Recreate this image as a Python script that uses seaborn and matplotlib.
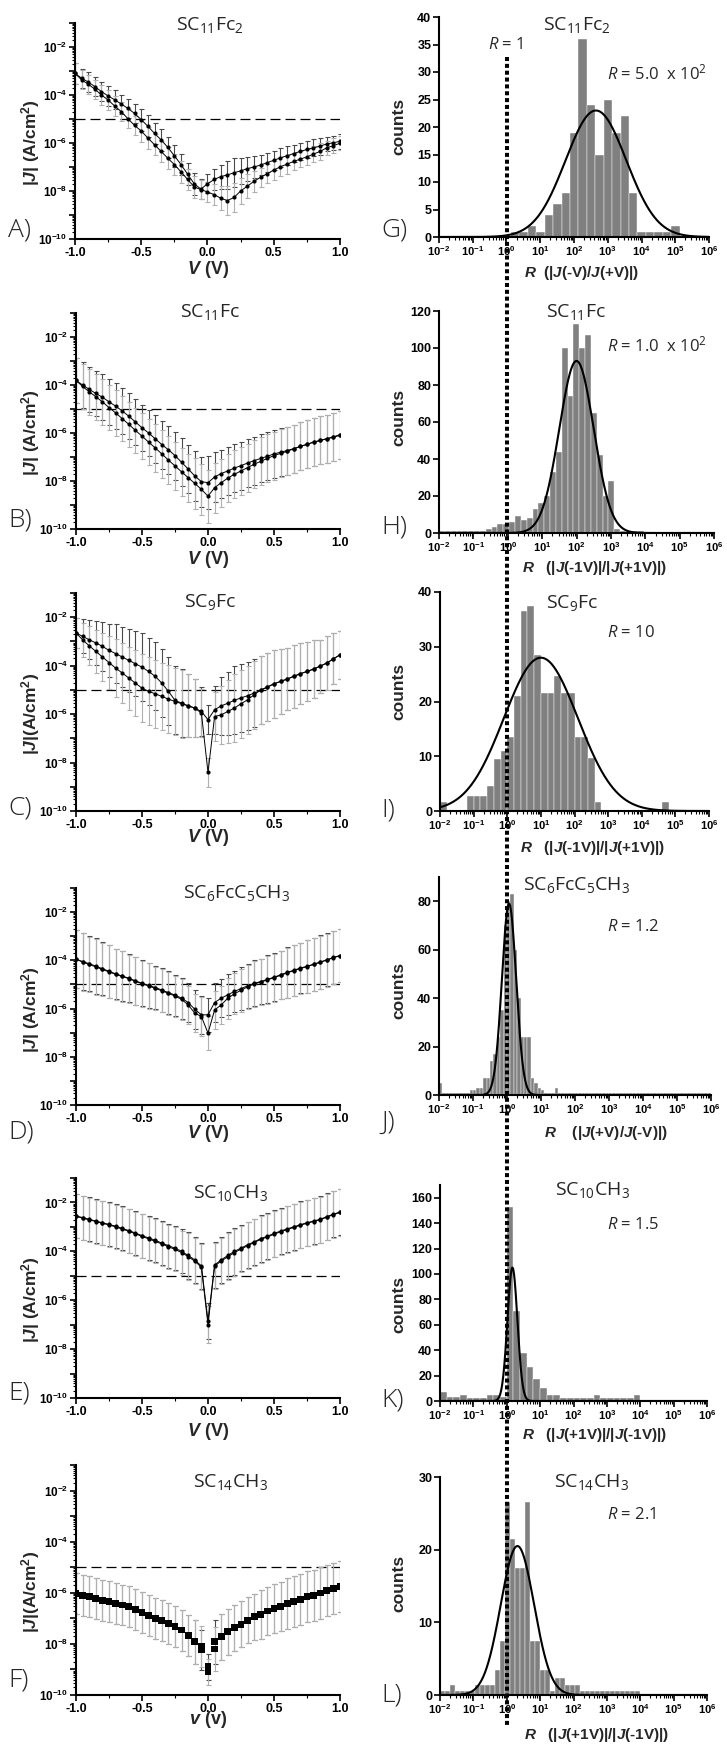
import numpy as np
import pandas as pd
import matplotlib
matplotlib.use('Agg')
import matplotlib.pyplot as plt
from matplotlib.lines import Line2D
from matplotlib.ticker import FixedLocator, FuncFormatter, LogLocator, NullFormatter, MultipleLocator
import seaborn as sns

sns.set_style('ticks')
plt.rcParams['font.family'] = ['Liberation Sans', 'DejaVu Sans']
plt.rcParams['mathtext.fontset'] = 'custom'
plt.rcParams['mathtext.rm'] = 'Open Sans'
plt.rcParams['mathtext.it'] = 'Open Sans:italic'
plt.rcParams['mathtext.bf'] = 'Liberation Sans:bold'
plt.rcParams['mathtext.bfit'] = 'Liberation Sans:italic:bold'
plt.rcParams['axes.unicode_minus'] = False

# ---------------- J(V) data: log10 |J| (A/cm2) for both sweeps ----------------
volts = np.linspace(-1.0, 1.0, 41)

a_fwd = [-3.10, -3.30, -3.46, -3.65, -3.86, -4.04, -4.20, -4.38, -4.56, -4.77,
         -5.03, -5.30, -5.60, -5.87, -6.18, -6.53, -6.90, -7.30, -7.70, -7.92,
         -7.70, -7.52, -7.40, -7.33, -7.24, -7.16, -7.07, -7.00, -6.92, -6.82,
         -6.72, -6.62, -6.53, -6.44, -6.35, -6.27, -6.20, -6.13, -6.04, -5.99, -5.93]
a_rev = [-3.10, -3.37, -3.55, -3.76, -4.00, -4.21, -4.46, -4.70, -4.99, -5.27,
         -5.50, -5.79, -6.07, -6.35, -6.63, -6.90, -7.20, -7.52, -7.83, -7.94,
         -8.04, -8.15, -8.30, -8.40, -8.27, -8.00, -7.80, -7.60, -7.43, -7.28,
         -7.13, -6.99, -6.88, -6.77, -6.67, -6.58, -6.46, -6.35, -6.20, -6.11, -6.01]
a_err = [0.45, 0.40, 0.40, 0.40, 0.40, 0.40, 0.40, 0.40, 0.40, 0.40,
         0.45, 0.45, 0.45, 0.45, 0.45, 0.45, 0.45, 0.45, 0.45, 0.40,
         0.40, 0.45, 0.50, 0.60, 0.60, 0.55, 0.50, 0.45, 0.40, 0.40,
         0.40, 0.40, 0.40, 0.35, 0.35, 0.35, 0.35, 0.35, 0.30, 0.30, 0.30]

b_fwd = [-3.81, -4.00, -4.18, -4.35, -4.51, -4.70, -4.88, -5.08, -5.30, -5.54,
         -5.78, -6.00, -6.24, -6.48, -6.70, -6.94, -7.22, -7.50, -7.79, -8.03,
         -8.07, -7.83, -7.69, -7.58, -7.46, -7.36, -7.25, -7.15, -7.06, -6.97,
         -6.87, -6.80, -6.73, -6.65, -6.56, -6.47, -6.38, -6.31, -6.24, -6.17, -6.10]
b_rev = [-3.81, -4.06, -4.28, -4.49, -4.70, -4.94, -5.16, -5.40, -5.64, -5.89,
         -6.13, -6.38, -6.62, -6.87, -7.13, -7.37, -7.62, -7.86, -8.10, -8.35,
         -8.63, -8.28, -8.07, -7.88, -7.72, -7.58, -7.44, -7.30, -7.18, -7.06,
         -6.94, -6.85, -6.76, -6.66, -6.56, -6.47, -6.38, -6.31, -6.24, -6.16, -6.07]
b_err = [0.95, 0.95, 0.95, 0.95, 0.95, 0.95, 0.95, 0.95, 0.95, 0.95,
         0.95, 0.95, 1.00, 1.00, 1.00, 1.00, 1.00, 1.00, 1.05, 1.05,
         1.10, 1.05, 1.00, 1.00, 1.00, 1.00, 1.00, 1.00, 1.00, 1.00,
         1.00, 1.00, 1.00, 1.00, 1.00, 1.00, 1.00, 1.00, 1.00, 1.00, 1.00]

c_fwd = [-2.65, -2.79, -2.93, -3.06, -3.20, -3.37, -3.50, -3.64, -3.78, -3.92,
         -4.06, -4.24, -4.44, -4.72, -5.06, -5.43, -5.55, -5.66, -5.75, -5.89,
         -6.23, -5.82, -5.66, -5.55, -5.43, -5.33, -5.24, -5.13, -5.02, -4.88,
         -4.75, -4.65, -4.55, -4.44, -4.33, -4.24, -4.14, -4.02, -3.89, -3.72, -3.55]
c_rev = [-2.65, -2.93, -3.18, -3.41, -3.64, -3.87, -4.10, -4.30, -4.51, -4.72,
         -4.93, -5.06, -5.16, -5.27, -5.38, -5.48, -5.57, -5.66, -5.75, -5.96,
         -8.41, -6.10, -6.03, -5.89, -5.75, -5.57, -5.41, -5.20, -5.00, -4.88,
         -4.75, -4.65, -4.55, -4.44, -4.33, -4.24, -4.14, -4.02, -3.89, -3.72, -3.55]
c_err = [0.60, 0.70, 0.80, 0.90, 1.00, 1.10, 1.20, 1.25, 1.30, 1.35,
         1.40, 1.40, 1.40, 1.40, 1.40, 1.40, 1.40, 1.30, 1.20, 1.00,
         0.60, 1.00, 1.20, 1.30, 1.40, 1.40, 1.40, 1.40, 1.40, 1.40,
         1.40, 1.35, 1.30, 1.30, 1.25, 1.20, 1.20, 1.10, 1.10, 1.05, 1.00]

d_fwd = [-3.95, -4.05, -4.14, -4.24, -4.35, -4.45, -4.56, -4.65, -4.74, -4.85,
         -4.95, -5.04, -5.13, -5.23, -5.34, -5.44, -5.57, -5.75, -6.03, -6.26,
         -6.26, -5.75, -5.57, -5.43, -5.29, -5.17, -5.06, -4.95, -4.88, -4.79,
         -4.70, -4.60, -4.50, -4.41, -4.32, -4.25, -4.16, -4.07, -3.98, -3.88, -3.80]
d_rev = [-3.95, -4.07, -4.17, -4.27, -4.38, -4.48, -4.58, -4.67, -4.76, -4.87,
         -4.97, -5.06, -5.16, -5.26, -5.37, -5.48, -5.62, -5.85, -6.19, -6.33,
         -7.02, -6.06, -5.85, -5.57, -5.39, -5.24, -5.10, -4.98, -4.90, -4.81,
         -4.72, -4.62, -4.52, -4.43, -4.34, -4.26, -4.17, -4.08, -3.99, -3.89, -3.81]
d_err = [1.20, 1.20, 1.15, 1.15, 1.10, 1.10, 1.05, 1.05, 1.00, 1.00,
         0.95, 0.95, 0.90, 0.90, 0.90, 0.85, 0.85, 0.80, 0.80, 0.80,
         0.70, 0.80, 0.80, 0.85, 0.85, 0.90, 0.90, 0.95, 0.95, 1.00,
         1.00, 1.00, 1.05, 1.05, 1.05, 1.10, 1.10, 1.10, 1.10, 1.10, 1.10]

e_fwd = [-2.55, -2.62, -2.69, -2.76, -2.83, -2.90, -2.97, -3.06, -3.15, -3.25,
         -3.36, -3.45, -3.55, -3.66, -3.77, -3.87, -4.00, -4.17, -4.35, -4.60,
         -6.85, -4.56, -4.35, -4.17, -4.00, -3.87, -3.73, -3.61, -3.48, -3.38,
         -3.27, -3.17, -3.08, -3.00, -2.91, -2.83, -2.76, -2.69, -2.58, -2.48, -2.39]
e_rev = [-2.57, -2.64, -2.71, -2.78, -2.85, -2.92, -3.00, -3.09, -3.18, -3.28,
         -3.39, -3.49, -3.59, -3.70, -3.81, -3.92, -4.05, -4.22, -4.40, -4.65,
         -7.00, -4.60, -4.40, -4.22, -4.05, -3.91, -3.77, -3.64, -3.51, -3.41,
         -3.30, -3.20, -3.11, -3.02, -2.93, -2.85, -2.78, -2.71, -2.60, -2.50, -2.41]
e_err = [0.90, 0.90, 0.90, 0.90, 0.90, 0.90, 0.90, 0.90, 0.90, 0.90,
         0.90, 0.90, 0.90, 0.90, 0.90, 0.90, 0.90, 0.95, 0.95, 0.95,
         0.75, 0.95, 0.95, 0.95, 0.95, 0.95, 0.95, 0.95, 0.95, 0.95,
         0.95, 0.95, 0.95, 0.95, 0.95, 0.95, 0.95, 0.95, 0.95, 0.95, 0.95]

f_fwd = [-6.03, -6.10, -6.16, -6.22, -6.29, -6.35, -6.42, -6.48, -6.55, -6.66,
         -6.77, -6.88, -7.00, -7.10, -7.20, -7.33, -7.46, -7.66, -7.92, -8.24,
         -8.90, -7.92, -7.72, -7.53, -7.36, -7.23, -7.07, -6.94, -6.84, -6.71,
         -6.62, -6.53, -6.42, -6.35, -6.27, -6.16, -6.10, -6.01, -5.90, -5.84, -5.77]
f_rev = [-6.03, -6.10, -6.16, -6.22, -6.29, -6.35, -6.42, -6.48, -6.55, -6.66,
         -6.77, -6.88, -7.00, -7.10, -7.20, -7.33, -7.46, -7.66, -7.92, -8.10,
         -9.10, -8.20, -7.72, -7.53, -7.36, -7.23, -7.07, -6.94, -6.84, -6.71,
         -6.62, -6.53, -6.42, -6.35, -6.27, -6.16, -6.10, -6.01, -5.90, -5.84, -5.77]
f_err = [0.80, 0.80, 0.80, 0.80, 0.80, 0.80, 0.80, 0.80, 0.80, 0.80,
         0.80, 0.80, 0.80, 0.80, 0.80, 0.80, 0.80, 0.80, 0.85, 0.80,
         0.50, 0.85, 0.90, 0.90, 0.90, 0.90, 0.90, 0.90, 0.95, 0.95,
         0.95, 0.95, 1.00, 1.00, 1.00, 1.00, 1.00, 1.00, 1.00, 1.00, 1.00]

# ---------------- R histograms: log10 bin start, bin width, counts ----------------
g_start, g_width = 0.13, 0.25
g_counts = [1, 1, 2, 1, 4, 6, 8, 19, 36, 24, 15, 25, 19, 22, 8, 1, 1, 1, 1, 2]
g_fit = (2.65, 0.9, 23)

h_start, h_width = -2.0, 0.17
h_counts = [1, 1, 1, 1, 1, 1, 1, 1, 2, 3,
            5, 5, 6, 9, 7, 8, 13, 16, 20, 33,
            44, 100, 74, 113, 100, 107, 65, 42, 20, 28,
            2, 1, 1, 1, 1, 0]
h_fit = (2.0, 0.5, 93)

i_start, i_width = -2.0, 0.2
i_counts = [1.6, 0, 0, 0, 2.7, 2.7, 2.7, 4.5, 9.5, 11,
            13.5, 21, 36.5, 37.5, 28.5, 21.5, 21.5, 24.7, 21.5, 21.5,
            13.5, 13.5, 9.6, 1.6, 0, 0, 0, 0, 0, 0,
            0, 0, 0, 1.6, 0]
i_fit = (1.0, 1.1, 28)

j_start, j_width = -2.0, 0.1
j_counts = [5, 1, 1, 1, 1, 1, 1, 1, 1, 2,
            2, 3, 3, 7, 7, 14, 17, 24, 35, 70,
            80, 83, 60, 40, 24, 24, 24, 7, 5, 3,
            2, 1, 1, 1, 3, 1, 1, 1, 1, 1,
            1, 1, 1, 1, 1, 1, 1, 1, 1, 1,
            1, 1, 1, 1, 1, 1, 1, 1, 1, 1,
            1, 1, 1, 1, 1, 1, 1, 1, 1, 1,
            1, 1, 1, 1, 1, 1, 1, 1, 1, 1]
j_fit = (0.06, 0.21, 79)

k_start, k_width = -2.0, 0.2
k_counts = [7, 3, 3, 5, 2, 2, 2, 5, 5, 3,
            153, 71, 38, 27, 17, 10, 5, 5, 2, 2,
            2, 2, 2, 5, 2, 2, 2, 2, 2, 5]
k_fit = (0.17, 0.15, 105)

l_start, l_width = -2.0, 0.15
l_counts = [0.5, 0.5, 1.4, 0.5, 0.5, 0.5, 0.5, 1.4, 1.4, 1.4,
            1.4, 3.5, 7.5, 26.5, 21.5, 17.5, 17.5, 26.5, 7.5, 7.5,
            3.5, 3.5, 0.5, 2.3, 2.3, 1.4, 1.4, 1.4, 0.5, 0.5,
            0.5, 0.5, 0.5, 0.5, 0.5, 0.5, 0.5, 0.5, 0.5, 0.5]
l_fit = (0.32, 0.5, 20.5)

names = [r'SC$_{11}$Fc$_{2}$', r'SC$_{11}$Fc', r'SC$_{9}$Fc',
         r'SC$_{6}$FcC$_{5}$CH$_{3}$', r'SC$_{10}$CH$_{3}$', r'SC$_{14}$CH$_{3}$']
r_notes = [r'$\mathit{R}$ = 5.0  x 10$^{2}$', r'$\mathit{R}$ = 1.0  x 10$^{2}$', r'$\mathit{R}$ = 10',
           r'$\mathit{R}$ = 1.2', r'$\mathit{R}$ = 1.5', r'$\mathit{R}$ = 2.1']
r_labels = [r'$\mathbfit{R}$  (|$\mathbfit{J}$(-V)/$\mathbfit{J}$(+V)|)',
            r'$\mathbfit{R}$   (|$\mathbfit{J}$(-1V)|/|$\mathbfit{J}$(+1V)|)',
            r'$\mathbfit{R}$   (|$\mathbfit{J}$(-1V)|/|$\mathbfit{J}$(+1V)|)',
            r'$\mathbfit{R}$    (|$\mathbfit{J}$(+V)/$\mathbfit{J}$(-V)|)',
            r'$\mathbfit{R}$   (|$\mathbfit{J}$(+1V)|/|$\mathbfit{J}$(-1V)|)',
            r'$\mathbfit{R}$   (|$\mathbfit{J}$(+1V)|/|$\mathbfit{J}$(-1V)|)']

# ---------------- layout (pixels) ----------------
W, H = 727, 1745
fig = plt.figure(figsize=(W / 100, H / 100), dpi=100)


def box(x0, y0, x1, y1):
    return [x0 / W, 1 - y1 / H, (x1 - x0) / W, (y1 - y0) / H]


def put(x, y, s, **kw):
    fig.text(x / W, 1 - y / H, s, **kw)


def style_axes(ax):
    sns.despine(ax=ax)
    for sp in ('left', 'bottom'):
        ax.spines[sp].set_linewidth(1.5)
        ax.spines[sp].set_color('black')
    ax.tick_params(which='major', direction='out', length=4, width=1.2, pad=1.5, colors='black')
    ax.tick_params(which='minor', direction='out', length=2, width=0.8, colors='black')
    ax.set_xlabel('')
    ax.set_ylabel('')


def draw_iv(ax, j1, j2, err, squares=False):
    ax.set_yscale('log')
    e = np.array(err)
    for j, ecol in ((j1, '#4a4a4a'), (j2, '#b0b0b0')):
        jj = 10.0 ** np.array(j)
        ax.errorbar(volts, jj, yerr=[jj - jj / 10 ** e, jj * 10 ** e - jj], fmt='none',
                    ecolor=ecol, elinewidth=0.8, capsize=1.8, capthick=0.8, zorder=2)
    for j in (j1, j2):
        df = pd.DataFrame({'V': volts, 'J': 10.0 ** np.array(j)})
        if squares:
            sns.scatterplot(data=df, x='V', y='J', marker='s', s=24, color='black',
                            edgecolor='none', ax=ax, zorder=3)
        else:
            sns.lineplot(data=df, x='V', y='J', color='black', lw=0.7, marker='o',
                         markersize=3, markeredgewidth=0, estimator=None, ax=ax, zorder=3)
    ax.axhline(1e-5, color='black', lw=0.9, ls=(0, (8, 4)), zorder=1)
    ax.set_xlim(-1.0, 1.0)
    ax.set_ylim(1e-10, 1e-1)
    ax.xaxis.set_major_locator(FixedLocator([-1.0, -0.5, 0.0, 0.5, 1.0]))
    ax.xaxis.set_minor_locator(MultipleLocator(0.25))
    ax.xaxis.set_major_formatter(FuncFormatter(lambda v, p: '%.1f' % v))
    ax.yaxis.set_major_locator(LogLocator(base=10, numticks=15))
    ax.yaxis.set_minor_locator(LogLocator(base=10, subs=np.arange(2, 10), numticks=15))
    ax.yaxis.set_minor_formatter(NullFormatter())
    ax.yaxis.set_major_formatter(FuncFormatter(
        lambda v, p: (r'$\mathbf{10^{%d}}$' % round(np.log10(v))) if round(np.log10(v)) % 2 == 0 else ''))
    style_axes(ax)
    for lab in ax.get_xticklabels():
        lab.set_fontweight('bold')
        lab.set_fontsize(9)
    ax.tick_params(axis='y', labelsize=8.5)


def draw_hist(ax, start, width, counts, fit, ymax, ystep):
    counts = np.array(counts, dtype=float)
    edges = start + width * np.arange(len(counts) + 1)
    df = pd.DataFrame({'logR': 0.5 * (edges[:-1] + edges[1:]), 'n': counts})
    sns.histplot(data=df, x='logR', weights='n', bins=edges.tolist(), color='#808080', alpha=1,
                 edgecolor='white', linewidth=0.3, ax=ax)
    mu, sig, amp = fit
    xs = np.linspace(-2, 6, 801)
    sns.lineplot(x=xs, y=amp * np.exp(-0.5 * ((xs - mu) / sig) ** 2), color='black', lw=1.5, ax=ax)
    ax.set_xlim(-2, 6)
    ax.set_ylim(0, ymax)
    ax.xaxis.set_major_locator(FixedLocator(np.arange(-2, 7)))
    ax.xaxis.set_minor_locator(FixedLocator(
        [n + np.log10(k) for n in range(-2, 6) for k in range(2, 10)]))
    ax.xaxis.set_major_formatter(FuncFormatter(lambda v, p: r'$\mathbf{10^{%d}}$' % round(v)))
    ax.yaxis.set_major_locator(MultipleLocator(ystep))
    ax.yaxis.set_major_formatter(FuncFormatter(lambda v, p: '%d' % v))
    style_axes(ax)
    ax.tick_params(axis='x', labelsize=8)
    ax.tick_params(axis='y', labelsize=9)
    for lab in ax.get_yticklabels():
        lab.set_fontweight('bold')


iv_sets = [(a_fwd, a_rev, a_err), (b_fwd, b_rev, b_err), (c_fwd, c_rev, c_err),
           (d_fwd, d_rev, d_err), (e_fwd, e_rev, e_err), (f_fwd, f_rev, f_err)]
iv_boxes = [(75, 23, 340, 239), (76, 313, 340, 529), (76, 593, 340, 811),
            (76, 888, 340, 1105), (76, 1178, 340, 1398), (76, 1465, 340, 1695)]
iv_title_xy = [(210, 25), (210, 312), (210, 602), (237, 893), (230, 1193), (230, 1482)]
iv_xlab_y = [270, 560, 838, 1133, 1432, 1720]
iv_ylab_y = [143, 433, 714, 1010, 1300, 1592]
iv_letter_y = [230, 520, 808, 1132, 1393, 1680]
iv_ylabels = [r'|$\mathbfit{J}$| (A/cm$^{\mathbf{2}}$)'] * 2 + [r'|$\mathbfit{J}$|(A/cm$^{\mathbf{2}}$)'] + \
             [r'|$\mathbfit{J}$| (A/cm$^{\mathbf{2}}$)'] * 2 + [r'|$\mathbfit{J}$|(A/cm$^{\mathbf{2}}$)']
iv_xlabels = [r'$\mathbfit{V}$ (V)'] * 5 + [r'$\mathbfit{v}$ (v)']

hist_sets = [(g_start, g_width, g_counts, g_fit, 40, 5), (h_start, h_width, h_counts, h_fit, 120, 20),
             (i_start, i_width, i_counts, i_fit, 40, 10), (j_start, j_width, j_counts, j_fit, 90, 20),
             (k_start, k_width, k_counts, k_fit, 170, 20), (l_start, l_width, l_counts, l_fit, 30, 10)]
hist_boxes = [(439, 17, 709, 237), (439, 311, 714, 533), (440, 592, 709, 811),
              (439, 877, 711, 1095), (440, 1185, 707, 1401), (440, 1477, 707, 1695)]
hist_title_xy = [(577, 25), (576, 312), (572, 603), (577, 885), (592, 1190), (591, 1482)]
note_y = [73, 345, 633, 927, 1225, 1515]
hist_xlab_xy = [(582, 273), (595, 568), (593, 848), (606, 1133), (595, 1435), (597, 1735)]
hist_ylab_y = [126, 417, 691, 990, 1304, 1583]
hist_letter_y = [230, 527, 810, 1122, 1400, 1695]

for k in range(6):
    ax = fig.add_axes(box(*iv_boxes[k]))
    j1, j2, err = iv_sets[k]
    draw_iv(ax, j1, j2, err, squares=(k == 5))
    tx, ty = iv_title_xy[k]
    put(tx, ty, names[k], family='Open Sans', fontsize=14, ha='center', va='center')
    put(208, iv_xlab_y[k], iv_xlabels[k], fontsize=13, fontweight='bold', ha='center', va='center')
    put(31, iv_ylab_y[k], iv_ylabels[k], fontsize=12.5, fontweight='bold', ha='center', va='center', rotation=90)
    put(8, iv_letter_y[k], 'ABCDEF'[k] + ')', family='Open Sans', fontweight='light', fontsize=19,
        ha='left', va='center')

    ax2 = fig.add_axes(box(*hist_boxes[k]))
    draw_hist(ax2, *hist_sets[k])
    tx, ty = hist_title_xy[k]
    put(tx, ty, names[k], family='Open Sans', fontsize=14, ha='center', va='center')
    put(607, note_y[k], r_notes[k], family='Open Sans', fontsize=12, ha='left', va='center')
    lx, ly = hist_xlab_xy[k]
    put(lx, ly, r_labels[k], fontsize=11, fontweight='bold', ha='center', va='center')
    put(399, hist_ylab_y[k], 'counts', fontsize=12.5, fontweight='bold', ha='center', va='center', rotation=90)
    put(381, hist_letter_y[k], 'GHIJKL'[k] + ')', family='Open Sans', fontweight='light', fontsize=19,
        ha='left', va='center')

# R = 1 guide running through all histograms
fig.add_artist(Line2D([507 / W, 507 / W], [1 - 57 / H, 1 - 1727 / H], transform=fig.transFigure,
                      color='black', lw=2.9, ls=(0, (1.0, 0.7)), solid_capstyle='butt',
                      dash_capstyle='butt', zorder=10))
put(506, 45, r'$\mathit{R}$ = 1', family='Open Sans', fontsize=12, ha='center', va='center')

fig.savefig('out.png', dpi=100, facecolor='white')
